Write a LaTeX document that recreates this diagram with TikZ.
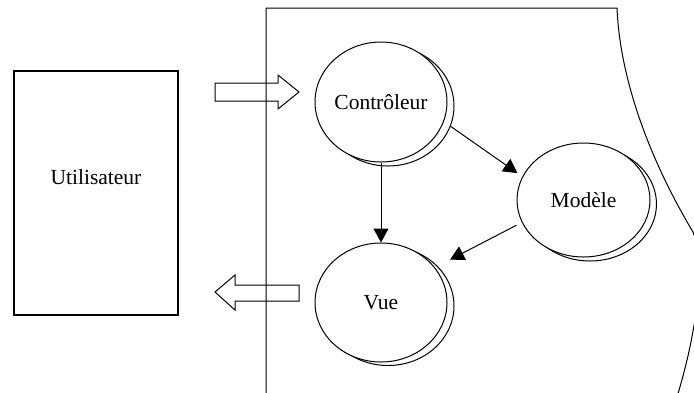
\documentclass[tikz,border=0pt]{standalone}
\usepackage{fontspec}
\setmainfont{Liberation Serif}
\usetikzlibrary{arrows.meta,shapes.geometric}
\begin{document}
\begin{tikzpicture}[x=1pt,y=-1pt,line width=1pt,
  txt/.style={font=\fontsize{21.5}{24}\selectfont, inner sep=0pt},
  ovalbox/.style={ellipse, draw, fill=white, inner sep=0pt, txt},
  ovalshadow/.style={ellipse, draw, inner sep=0pt},
  msg/.style={-{Triangle[length=14pt,width=15pt]}},
  blockarrow/.style={line join=miter}
]
\useasboundingbox (0,0) rectangle (694,392);

% application boundary
\begin{scope}
  \clip (0,0) rectangle (694,392);
  \draw (266,400) -- (266,8) -- (617,8)
        .. controls (620,80) and (650,160) .. (693,232)
        .. controls (705,262) and (698,330) .. (676,400);
\end{scope}

% user
\node[draw, line width=1.3pt, minimum width=164pt, minimum height=244pt, inner sep=0pt] (user) at (96,193) {};
\node[txt] (usertxt) at (96,177) {Utilisateur};

% input and output block arrows
\draw[blockarrow] (215,83) -- (278,83) -- (278,75) -- (299,92) -- (278,109) -- (278,101) -- (215,101) -- cycle;
\draw[blockarrow] (299,285) -- (235,285) -- (235,275) -- (215,292) -- (235,310) -- (235,301) -- (299,301) -- cycle;

% components, each with an offset outline behind it
\node[ovalshadow, minimum width=132pt, minimum height=120pt] (ctrlsh) at (388,106) {};
\node[ovalbox, minimum width=132pt, minimum height=120pt] (ctrl) at (381,102) {Contrôleur};

\node[ovalshadow, minimum width=133pt, minimum height=114pt] (modsh) at (590,204) {};
\node[ovalbox, minimum width=133pt, minimum height=114pt] (mod) at (583.5,200) {Modèle};

\node[ovalshadow, minimum width=132pt, minimum height=119pt] (vuesh) at (388,306) {};
\node[ovalbox, minimum width=132pt, minimum height=119pt] (vue) at (381,302.5) {Vue};

% interactions
\draw[msg] (ctrl.south) -- (vue.north);
\draw[msg, shorten >=6pt] (ctrlsh.-18) -- (mod.159);
\draw[msg, shorten <=6pt, shorten >=17pt] (mod.200) -- (vue.33);
\end{tikzpicture}
\end{document}
